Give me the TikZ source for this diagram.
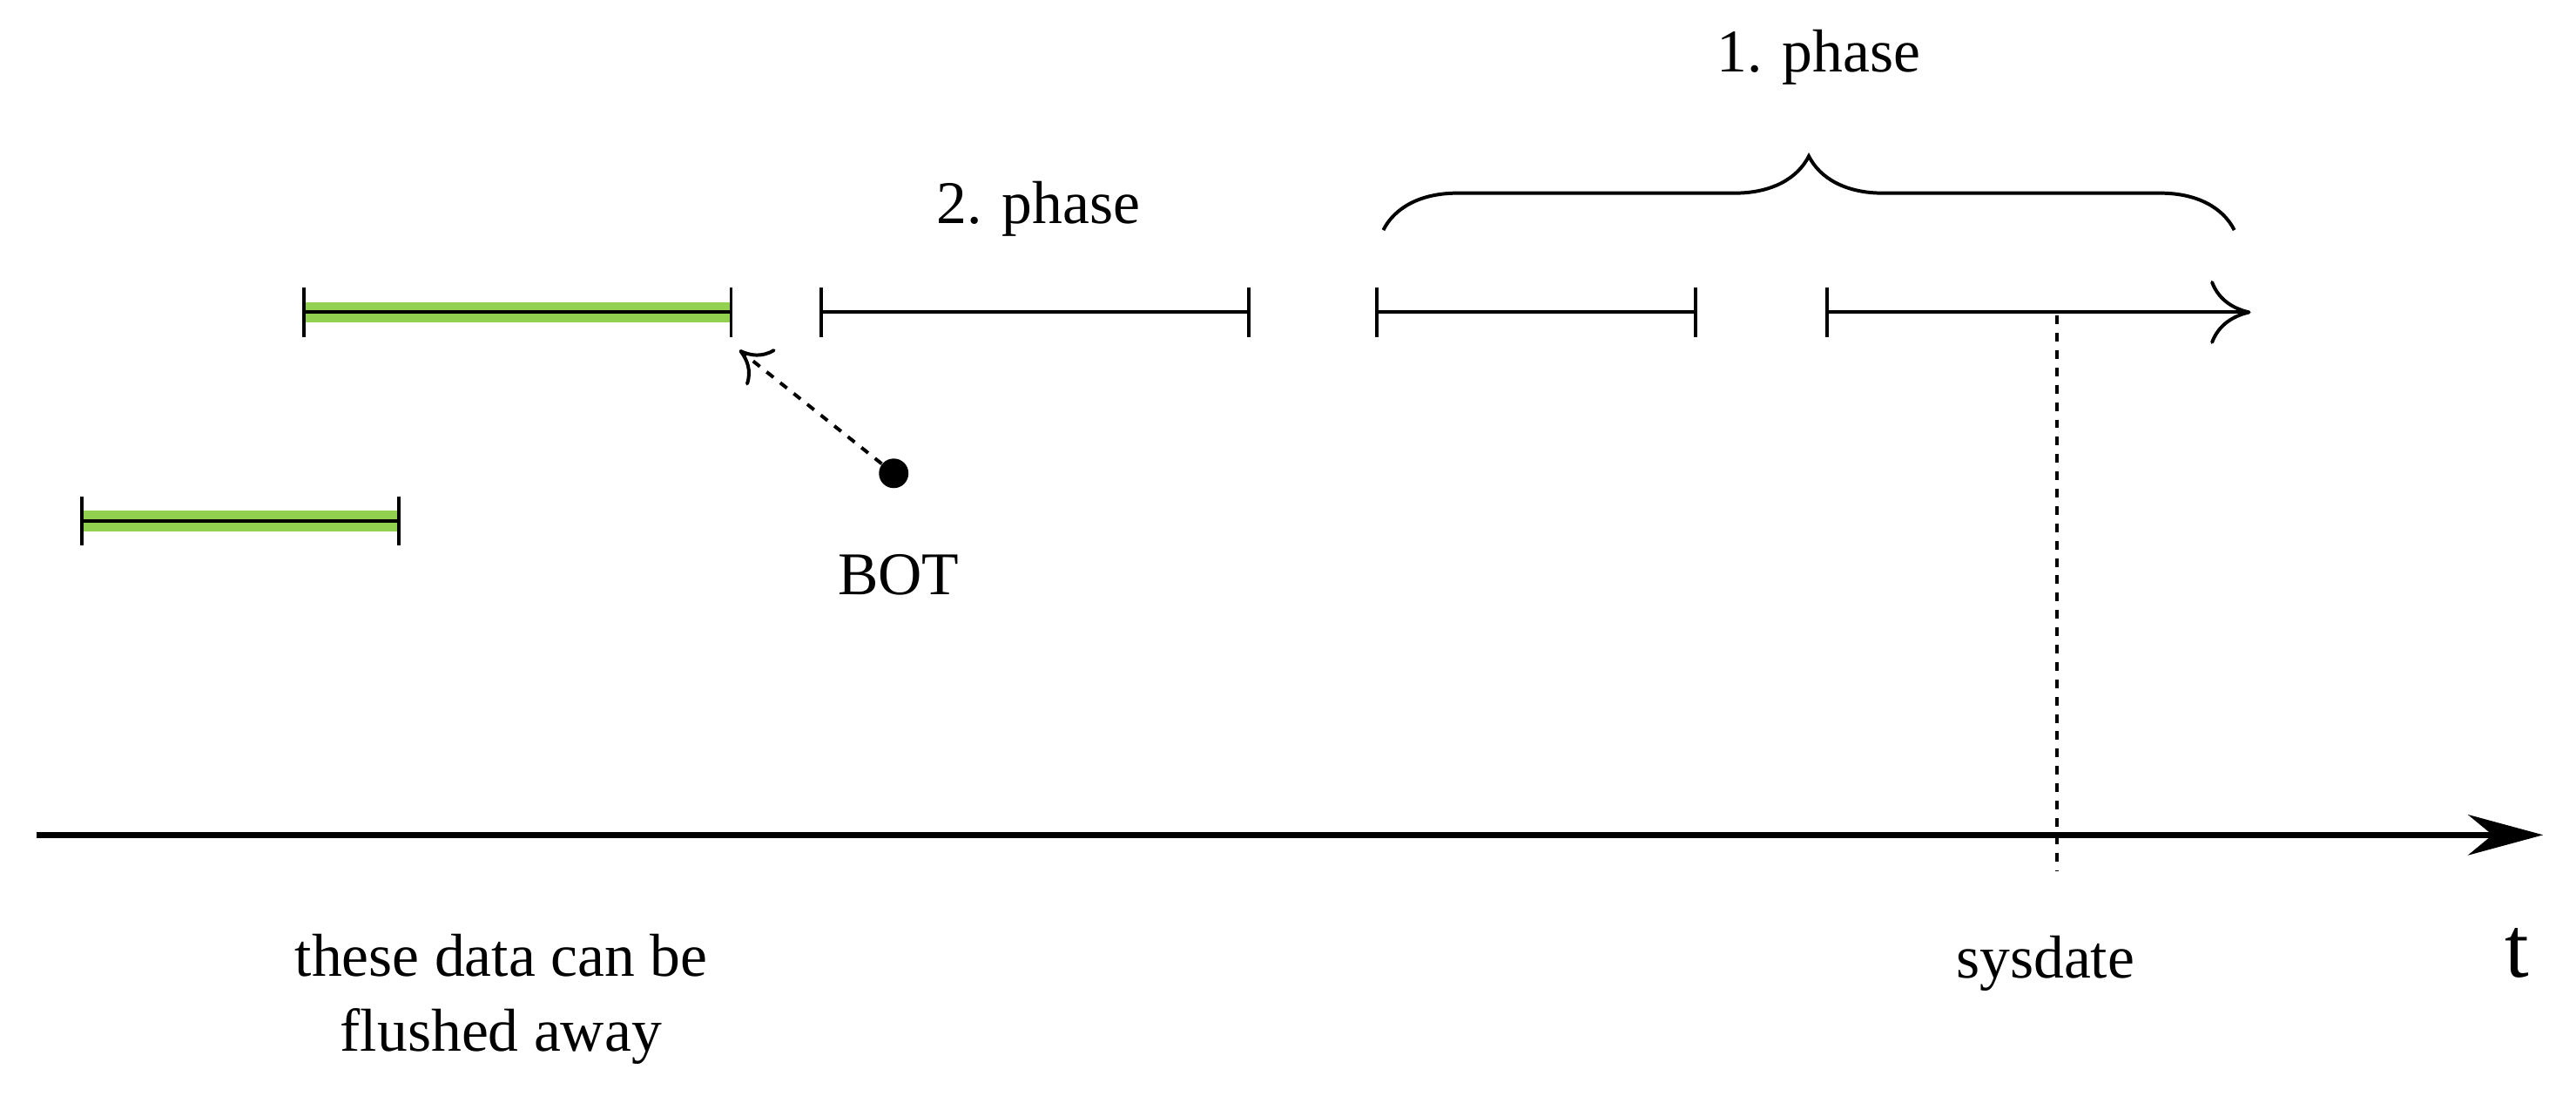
\documentclass[tikz,border=0pt]{standalone}
\usepackage{fontspec}
\setmainfont{Liberation Serif}
\usetikzlibrary{arrows.meta,decorations.pathreplacing}
\begin{document}
\begin{tikzpicture}[x=0.02cm,y=-0.02cm,
  lbl/.style={font=\fontsize{21}{26}\selectfont, inner sep=0pt},
  seg/.style={line width=1.2pt},
  tick/.style={line width=1.2pt},
  green/.style={line width=7pt, color={rgb,255:red,146;green,208;blue,80}}]
\useasboundingbox (0,0) rectangle (1568,671);
% axis
\coordinate (a0) at (22,508); \coordinate (a1) at (1548,508);
\draw[line width=2.2pt,-{Stealth[length=26pt,width=14pt]}] (a0) -- (a1);
\node[lbl,font=\fontsize{30}{34}\selectfont] (t) at (1532,580) {t};
\node[lbl,align=center] (flush) at (305,608) {these data can be\\flushed away};
\node[lbl] (sys) at (1245,586) {sysdate};
% green bars
\coordinate (g1a) at (50,317); \coordinate (g1b) at (243,317);
\coordinate (g2a) at (185,190); \coordinate (g2b) at (445,190);
\foreach \a/\b in {g1a/g1b,g2a/g2b}{
  \draw[green] (\a) -- (\b);
  \draw[seg] (\a) -- (\b);
  \draw[tick] ([yshift=15*0.02cm]\a) -- ([yshift=-15*0.02cm]\a);
  \draw[tick] ([yshift=15*0.02cm]\b) -- ([yshift=-15*0.02cm]\b);
}
% segments
\coordinate (s1a) at (500,190); \coordinate (s1b) at (760,190);
\coordinate (s2a) at (838,190); \coordinate (s2b) at (1032,190);
\coordinate (s3a) at (1112,190); \coordinate (s3b) at (1370,190);
\foreach \a/\b in {s1a/s1b,s2a/s2b}{
  \draw[seg] (\a) -- (\b);
  \draw[tick] ([yshift=15*0.02cm]\a) -- ([yshift=-15*0.02cm]\a);
  \draw[tick] ([yshift=15*0.02cm]\b) -- ([yshift=-15*0.02cm]\b);
}
\draw[seg,-{To[length=14pt,width=22pt]}] (s3a) -- (s3b);
\draw[tick] ([yshift=15*0.02cm]s3a) -- ([yshift=-15*0.02cm]s3a);
% sysdate dashed
\coordinate (d0) at (1252,192); \coordinate (d1) at (1252,530);
\draw[dashed,line width=1.2pt] (d0) -- (d1);
% labels
\node[lbl] (p2) at (632,127) {2. phase};
\node[lbl] (p1) at (1107,35) {1. phase};
\coordinate (b0) at (842,140); \coordinate (b1) at (1360,140);
\draw[line width=1.2pt,decorate,decoration={brace,amplitude=0.9cm}] (b0) -- (b1);
% BOT
\node[circle,fill,inner sep=0pt,minimum size=0.36cm] (dot) at (544,288) {};
\coordinate (bt) at (450,213);
\draw[dashed,line width=1.2pt,-{To[length=10pt,width=16pt]}] (dot) -- (bt);
\node[lbl] (bot) at (547,350) {BOT};
\end{tikzpicture}
\end{document}
